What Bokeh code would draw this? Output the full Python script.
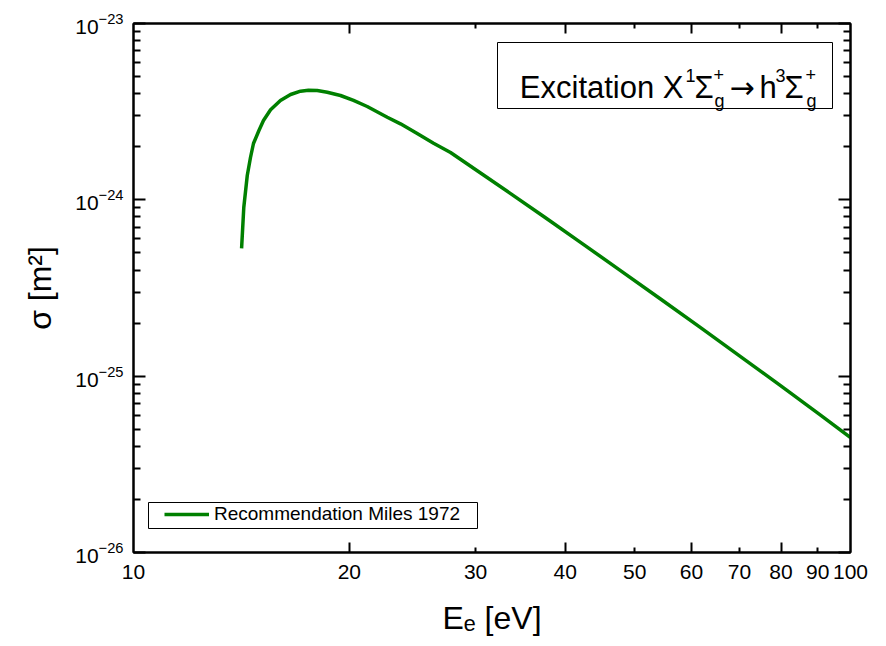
import math
from bokeh.plotting import figure
from bokeh.models import (LogAxis, FixedTicker, LogTickFormatter, PrintfTickFormatter,
                          CustomJSTickFormatter, Label, BoxAnnotation, Legend, LegendItem, Range1d)
from bokeh.embed import file_html
from bokeh.resources import INLINE

# ---- data ----
energy_eV = [14.15, 14.25, 14.41, 14.56, 14.70, 14.96, 15.18, 15.53, 16.03, 16.56, 17.10,
             17.54, 18.04, 18.63, 19.44, 20.27, 21.18, 22.59, 23.57, 24.87, 26.21, 27.68,
             30.48, 33.57, 37.55, 42.02, 47.78, 54.33, 61.79, 70.25, 79.88, 90.82, 100.0]
sigma_m2 = [5.30e-25, 9.05e-25, 1.374e-24, 1.738e-24, 2.087e-24, 2.472e-24, 2.818e-24,
            3.240e-24, 3.660e-24, 3.958e-24, 4.133e-24, 4.187e-24, 4.169e-24, 4.078e-24,
            3.906e-24, 3.660e-24, 3.383e-24, 2.942e-24, 2.698e-24, 2.377e-24, 2.095e-24,
            1.855e-24, 1.420e-24, 1.085e-24, 7.91e-25, 5.74e-25, 3.97e-25, 2.74e-25,
            1.885e-25, 1.292e-25, 8.83e-26, 6.01e-26, 4.49e-26]
series_label = "Recommendation Miles 1972"
x_tick_labels = [10, 20, 30, 40, 50, 60, 70, 80, 90, 100]
x_long_ticks = [20, 40, 60, 80]
x_short_ticks = [30, 50, 70, 90]
y_decades = [1e-26, 1e-25, 1e-24, 1e-23]

FONT = "Liberation Sans"
W, H = 886, 646
L, R, T, B = 133, 850, 23, 552   # frame in pixels

def xd(px):
    return 10 ** (1 + (px - L) / (R - L))

def yd(py):
    return 10 ** (-23 - 3 * (py - T) / (B - T))

p = figure(width=W, height=H, x_axis_type="log", y_axis_type="log",
           x_range=Range1d(10, 100), y_range=Range1d(1e-26, 1e-23),
           x_axis_location=None, y_axis_location=None,
           output_backend="svg", toolbar_location=None,
           min_border_left=L, min_border_right=W - R, min_border_top=T, min_border_bottom=H - B)
p.grid.visible = False
p.outline_line_color = "black"
p.outline_line_width = 2
p.background_fill_color = "white"
p.border_fill_color = "white"

blank = CustomJSTickFormatter(code="return ''")
y_minor = [k * d for d in y_decades[:-1] for k in range(2, 10)]

def tick_axis(ticker, major_len, minor_len):
    return LogAxis(ticker=ticker, formatter=blank, major_label_standoff=0,
                   major_label_text_font_size="1px",
                   major_tick_in=major_len, major_tick_out=0,
                   minor_tick_in=minor_len, minor_tick_out=0,
                   axis_line_width=2, major_tick_line_width=2, minor_tick_line_width=2)

# bottom: ticks then labels
p.add_layout(tick_axis(FixedTicker(ticks=x_long_ticks, minor_ticks=x_short_ticks), 10, 5), "below")
xlab = LogAxis(ticker=FixedTicker(ticks=x_tick_labels), formatter=PrintfTickFormatter(format="%d"),
               major_tick_in=0, major_tick_out=0, minor_tick_in=0, minor_tick_out=0,
               axis_line_color=None, major_label_standoff=12,
               major_label_text_font=FONT, major_label_text_font_size="21px",
               major_label_text_color="black",
               axis_label="Eₑ [eV]", axis_label_text_font=FONT, axis_label_text_font_size="32px",
               axis_label_text_font_style="normal", axis_label_text_color="black",
               axis_label_standoff=18)
p.add_layout(xlab, "below")
# top mirror
p.add_layout(tick_axis(FixedTicker(ticks=x_long_ticks, minor_ticks=x_short_ticks), 10, 5), "above")

# left
ylab = LogAxis(ticker=FixedTicker(ticks=y_decades, minor_ticks=y_minor), formatter=LogTickFormatter(),
               major_tick_in=12, major_tick_out=0, minor_tick_in=7, minor_tick_out=0,
               axis_line_width=2, major_tick_line_width=2, minor_tick_line_width=2,
               major_label_standoff=10, major_label_text_font=FONT,
               major_label_text_font_size="21px", major_label_text_color="black",
               axis_label="σ [m²]", axis_label_text_font=FONT, axis_label_text_font_size="32px",
               axis_label_text_font_style="normal", axis_label_text_color="black",
               axis_label_standoff=14)
p.add_layout(ylab, "left")
# right mirror
p.add_layout(tick_axis(FixedTicker(ticks=y_decades, minor_ticks=y_minor), 12, 7), "right")

r = p.line(energy_eV, sigma_m2, line_color="#008000", line_width=3.5)

# ---- legend ----
p.add_layout(BoxAnnotation(left=xd(148), right=xd(477), top=yd(502), bottom=yd(528),
                           fill_color="white", fill_alpha=1, line_color="black",
                           line_alpha=1, line_width=1))
leg = Legend(items=[LegendItem(label=series_label, renderers=[r])], location=(31, 27),
             padding=0, margin=0, border_line_color=None, background_fill_alpha=0,
             glyph_width=45, glyph_height=20, label_height=20, label_standoff=5, spacing=0,
             label_text_font=FONT, label_text_font_size="19px", label_text_color="black")
p.add_layout(leg)

# ---- title box ----
p.add_layout(BoxAnnotation(left=xd(497), right=xd(832), top=yd(42), bottom=yd(108),
                           fill_color="white", fill_alpha=1, line_color="black",
                           line_alpha=1, line_width=1))

def lab(px, py, text, size, align="left", font=FONT):
    p.add_layout(Label(x=xd(px), y=yd(py), text=text, text_font=font, text_font_size=f"{size}px",
                       text_color="black", text_align=align, text_baseline="alphabetic"))

lab(683, 87, "Excitation X", 31, align="right")
lab(685, 75, "1", 18)
lab(694, 87, "Σ", 31)
lab(713, 74, "+", 18)
lab(714, 100, "g", 18)
lab(729, 87, "→", 30, font="DejaVu Sans")
lab(759, 87, "h", 31)
lab(775, 75, "3", 18)
lab(784, 87, "Σ", 31)
lab(805, 74, "+", 18)
lab(806, 100, "g", 18)

open("out.html", "w").write(file_html(p, INLINE))
